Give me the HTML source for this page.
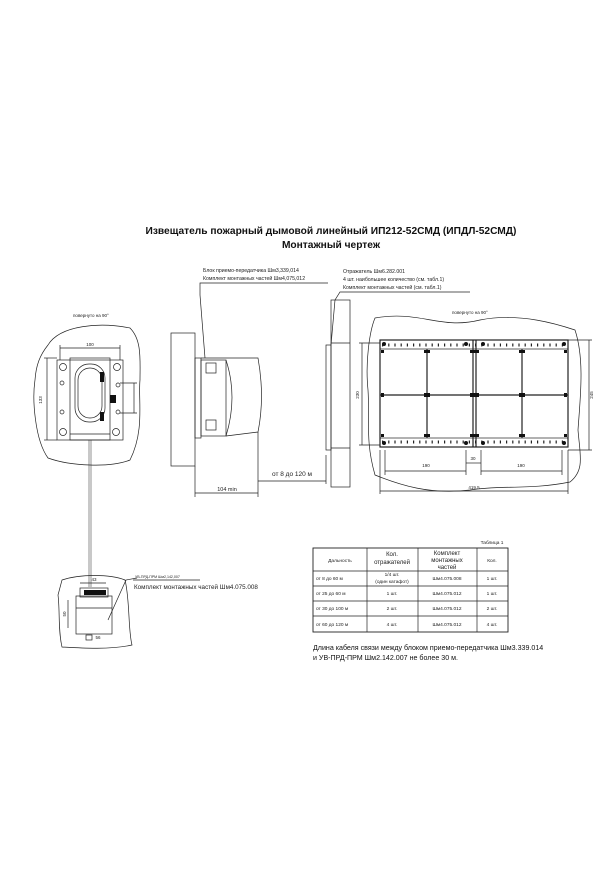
<!DOCTYPE html>
<html><head><meta charset="utf-8"><style>
html,body{margin:0;padding:0;background:#fff;}
svg{display:block;font-family:"Liberation Sans",sans-serif;}
</style></head><body>
<svg width="600" height="888" viewBox="0 0 600 888" xmlns="http://www.w3.org/2000/svg">
<g fill="#111" text-anchor="middle" font-weight="bold" font-size="10.2">
<text x="331" y="234">Извещатель пожарный дымовой линейный ИП212-52СМД (ИПДЛ-52СМД)</text>
<text x="331" y="248">Монтажный чертеж</text>
</g>
<g fill="#222" font-size="5.2">
<text x="203" y="272">Блок приемо-передатчика Шм3,339,014</text>
<text x="203" y="280">Комплект монтажных частей Шм4,075,012</text>
<text x="343" y="273">Отражатель Шм6.282.001</text>
<text x="343" y="281">4 шт. наибольшее количество (см. табл.1)</text>
<text x="343" y="289">Комплект монтажных частей (см. табл.1)</text>
<text x="73" y="317" font-size="4.5">повернуто на 90°</text>
<text x="452" y="314" font-size="4.5">повернуто на 90°</text>
</g>
<g stroke="#222" stroke-width="0.7" fill="none">
<polyline points="328,283 200,283 200,295 205,358"/>
<polyline points="470,292 340,292 335,300 331,345"/>
<path d="M48,345 C60,325 100,322 130,328 C142,340 140,360 140,380 C138,400 145,430 130,460 C110,468 70,466 48,458 C35,440 32,400 35,380 C36,365 40,355 48,345 Z"/>
<rect x="57" y="360" width="66" height="80"/>
<rect x="70" y="358" width="40" height="82"/>
<rect x="75" y="364" width="30" height="58" rx="14"/>
<rect x="78" y="368" width="24" height="50" rx="12"/>
<circle cx="63" cy="367" r="3.5"/><circle cx="117" cy="367" r="3.5"/>
<circle cx="63" cy="432" r="3.5"/><circle cx="116" cy="432" r="3.5"/>
<circle cx="62" cy="383" r="2"/><circle cx="62" cy="412" r="2"/>
<circle cx="118" cy="385" r="2"/><circle cx="118" cy="412" r="2"/>
<line x1="70" y1="434" x2="110" y2="434"/>
<line x1="60" y1="348" x2="120" y2="348"/><line x1="60" y1="345" x2="60" y2="360"/><line x1="120" y1="345" x2="120" y2="360"/>
<line x1="47" y1="358" x2="47" y2="440"/><line x1="44" y1="358" x2="57" y2="358"/><line x1="44" y1="440" x2="57" y2="440"/>
<line x1="134" y1="383" x2="134" y2="413"/><line x1="120" y1="383" x2="137" y2="383"/><line x1="120" y1="413" x2="137" y2="413"/>
<line x1="89" y1="440" x2="89" y2="587" stroke-width="0.5"/><line x1="91" y1="440" x2="91" y2="587" stroke-width="0.5"/>
<path d="M62,580 C80,574 110,574 125,580 C130,600 128,630 132,645 C110,650 80,648 62,647 C58,630 60,610 58,595 Z"/>
<rect x="76" y="596" width="36" height="38"/>
<line x1="76" y1="608" x2="112" y2="608"/>
<rect x="80" y="588" width="28" height="9"/>
<line x1="80" y1="583" x2="106" y2="583"/>
<line x1="68" y1="600" x2="68" y2="628"/>
<rect x="86" y="635" width="6" height="5"/>
<polyline points="137,578 126,580 108,620"/>
<line x1="133" y1="580" x2="200" y2="580"/>
<rect x="171" y="333" width="24" height="133"/>
<rect x="195" y="358" width="6" height="80"/>
<rect x="201" y="360" width="25" height="76"/>
<path d="M201,358 L258,358 Q265,397 258,432 L226,436"/>
<path d="M226,360 Q238,397 226,436"/>
<rect x="206" y="363" width="10" height="10"/>
<rect x="206" y="420" width="10" height="10"/>
<line x1="195" y1="466" x2="195" y2="497"/>
<line x1="258" y1="432" x2="258" y2="497"/>
<line x1="195" y1="493" x2="258" y2="493"/>
<line x1="258" y1="481" x2="326" y2="481"/>
<line x1="326" y1="455" x2="326" y2="484"/>
<rect x="331" y="300" width="19" height="187"/>
<rect x="326" y="345" width="5" height="105"/>
<line x1="331" y1="343" x2="350" y2="343"/><line x1="331" y1="448" x2="350" y2="448"/>
<path d="M375,318 C420,310 440,330 480,320 C520,312 560,325 575,330 C585,360 580,400 578,430 C580,455 585,470 570,482 C530,490 500,485 470,490 C430,495 400,485 375,475 C365,440 370,420 368,390 C365,360 370,330 375,318 Z"/>
<rect x="380" y="340" width="188" height="107" stroke-width="1.2"/>
<rect x="380" y="340" width="188" height="9"/>
<rect x="380" y="438" width="188" height="9"/>
<line x1="382" y1="345" x2="566" y2="345" stroke-width="3" stroke-dasharray="1.2,5"/>
<line x1="382" y1="442" x2="566" y2="442" stroke-width="3" stroke-dasharray="1.2,5"/>
<line x1="473" y1="340" x2="473" y2="447" stroke-width="1.2"/>
<line x1="476" y1="340" x2="476" y2="447" stroke-width="1.2"/>
<line x1="427" y1="349" x2="427" y2="438" stroke-width="1.2"/>
<line x1="522" y1="349" x2="522" y2="438" stroke-width="1.2"/>
<line x1="380" y1="395" x2="568" y2="395" stroke-width="1.2"/>
<line x1="362" y1="343" x2="362" y2="445"/><line x1="359" y1="343" x2="380" y2="343"/><line x1="359" y1="445" x2="380" y2="445"/>
<line x1="589" y1="340" x2="589" y2="450"/><line x1="568" y1="340" x2="592" y2="340"/><line x1="568" y1="450" x2="592" y2="450"/>
<line x1="385" y1="450" x2="385" y2="475"/><line x1="466" y1="450" x2="466" y2="475"/>
<line x1="481" y1="450" x2="481" y2="475"/><line x1="562" y1="450" x2="562" y2="475"/>
<line x1="385" y1="471" x2="466" y2="471"/><line x1="481" y1="471" x2="562" y2="471"/>
<line x1="466" y1="463" x2="481" y2="463"/>
<line x1="380" y1="450" x2="380" y2="494"/><line x1="568" y1="450" x2="568" y2="494"/>
<line x1="380" y1="491" x2="568" y2="491"/>
<rect x="313" y="548" width="195" height="84" stroke-width="0.9"/>
<line x1="313" y1="571" x2="508" y2="571"/><line x1="313" y1="586" x2="508" y2="586"/>
<line x1="313" y1="601" x2="508" y2="601"/><line x1="313" y1="616" x2="508" y2="616"/>
<line x1="367" y1="548" x2="367" y2="632"/><line x1="418" y1="548" x2="418" y2="632"/><line x1="477" y1="548" x2="477" y2="632"/>
</g>
<g fill="#111">
<g stroke="none">
<circle cx="384" cy="344" r="2"/><circle cx="466" cy="344" r="2"/><circle cx="483" cy="344" r="2"/><circle cx="564" cy="344" r="2"/>
<circle cx="384" cy="443" r="2"/><circle cx="466" cy="443" r="2"/><circle cx="483" cy="443" r="2"/><circle cx="564" cy="443" r="2"/>
<rect x="381" y="350" width="3" height="3"/><rect x="424" y="350" width="6" height="3"/><rect x="470" y="350" width="9" height="3"/><rect x="519" y="350" width="6" height="3"/><rect x="564" y="350" width="3" height="3"/>
<rect x="381" y="393" width="3" height="4"/><rect x="424" y="393" width="6" height="4"/><rect x="470" y="393" width="9" height="4"/><rect x="519" y="393" width="6" height="4"/><rect x="564" y="393" width="3" height="4"/>
<rect x="381" y="434" width="3" height="3"/><rect x="424" y="434" width="6" height="3"/><rect x="470" y="434" width="9" height="3"/><rect x="519" y="434" width="6" height="3"/><rect x="564" y="434" width="3" height="3"/>
<rect x="100" y="372" width="4" height="10"/><rect x="110" y="395" width="6" height="8"/><rect x="100" y="412" width="4" height="9"/>
<rect x="84" y="590" width="22" height="5"/>
</g>
<g font-size="4.5" text-anchor="middle" fill="#222">
<text x="90" y="346">100</text><text x="426" y="467">190</text><text x="521" y="467">190</text><text x="473" y="460">30</text><text x="474" y="489">419.5</text>
<text x="94" y="581">43</text><text x="98" y="639">56</text>
<text x="42" y="400" transform="rotate(-90 42 400)">133</text>
<text x="359" y="395" transform="rotate(-90 359 395)">230</text>
<text x="593" y="395" transform="rotate(-90 593 395)">245</text>
<text x="66" y="614" transform="rotate(-90 66 614)">50</text>
</g>
<text x="135" y="578" font-size="3.6" fill="#222">УВ-ПРД-ПРМ Шм2,142,007</text>
<text x="134" y="589" font-size="6.3" fill="#222">Комплект монтажных частей Шм4.075.008</text>
<text x="227" y="491" font-size="5.5" text-anchor="middle" fill="#222">104 min</text>
<text x="292" y="476" font-size="6.5" text-anchor="middle" fill="#222">от 8 до 120 м</text>
<g font-size="4.8" fill="#222" text-anchor="middle">
<text x="492" y="544">Таблица 1</text>
<text x="340" y="562">Дальность</text>
<text x="392" y="556" font-size="6">Кол.</text><text x="392" y="564" font-size="6">отражателей</text>
<text x="447" y="555" font-size="6">Комплект</text><text x="447" y="562" font-size="6">монтажных</text><text x="447" y="569" font-size="6">частей</text>
<text x="492" y="562">Кол.</text>
<text x="392" y="576">1/4 шт.</text><text x="392" y="583">(один катафот)</text>
<g text-anchor="start"><text x="316" y="580">от 8 до 60 м</text><text x="316" y="595">от 25 до 60 м</text><text x="316" y="610">от 30 до 100 м</text><text x="316" y="626">от 60 до 120 м</text></g>
<text x="392" y="595">1 шт.</text><text x="392" y="610">2 шт.</text><text x="392" y="626">4 шт.</text>
<text x="447" y="580">Шм4.075.008</text><text x="447" y="595">Шм4.075.012</text><text x="447" y="610">Шм4.075.012</text><text x="447" y="626">Шм4.075.012</text>
<text x="492" y="580">1 шт.</text><text x="492" y="595">1 шт.</text><text x="492" y="610">2 шт.</text><text x="492" y="626">4 шт.</text>
</g>
<g font-size="7.1" fill="#111">
<text x="313" y="650">Длина кабеля связи между блоком приемо-передатчика Шм3.339.014</text>
<text x="313" y="660">и УВ-ПРД-ПРМ Шм2.142.007 не более 30 м.</text>
</g>
</g>
</svg>
</body></html>
